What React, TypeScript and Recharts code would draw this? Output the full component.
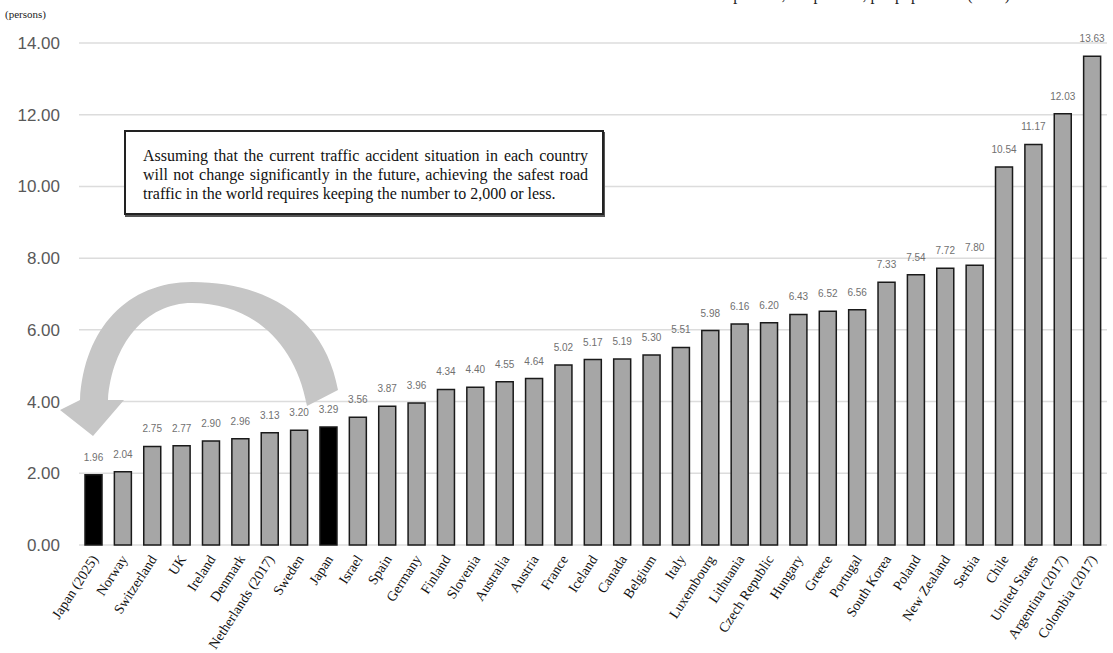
import React from "react";
import {
  BarChart,
  Bar,
  XAxis,
  YAxis,
  CartesianGrid,
  Cell,
  LabelList,
} from "recharts";

// Road traffic deaths per 100,000 persons, by country
const countries = [
  "Japan (2025)",
  "Norway",
  "Switzerland",
  "UK",
  "Ireland",
  "Denmark",
  "Netherlands (2017)",
  "Sweden",
  "Japan",
  "Israel",
  "Spain",
  "Germany",
  "Finland",
  "Slovenia",
  "Australia",
  "Austria",
  "France",
  "Iceland",
  "Canada",
  "Belgium",
  "Italy",
  "Luxembourg",
  "Lithuania",
  "Czech Republic",
  "Hungary",
  "Greece",
  "Portugal",
  "South Korea",
  "Poland",
  "New Zealand",
  "Serbia",
  "Chile",
  "United States",
  "Argentina (2017)",
  "Colombia (2017)",
];

const deaths = [
  1.96, 2.04, 2.75, 2.77, 2.9, 2.96, 3.13, 3.2, 3.29, 3.56, 3.87, 3.96, 4.34,
  4.4, 4.55, 4.64, 5.02, 5.17, 5.19, 5.3, 5.51, 5.98, 6.16, 6.2, 6.43, 6.52,
  6.56, 7.33, 7.54, 7.72, 7.8, 10.54, 11.17, 12.03, 13.63,
];

const highlighted = ["Japan (2025)", "Japan"];

const yTicks = [0, 2, 4, 6, 8, 10, 12, 14];

const note =
  "Assuming that the current traffic accident situation in each country will not change significantly in the future, achieving the safest road traffic in the world requires keeping the number to 2,000 or less.";

const data = countries.map((country, i) => ({ country, value: deaths[i] }));

const serif = '"Liberation Serif", "Times New Roman", serif';
const sans = '"Liberation Sans", Arial, sans-serif';

function CountryTick(props: any) {
  const { x, y, payload } = props;
  return (
    <g transform={`translate(${x + 5},${y + 6})`}>
      <text
        x={0}
        y={0}
        textAnchor="end"
        transform="rotate(-57)"
        fontFamily={serif}
        fontSize={14}
        fill="#111"
      >
        {payload.value}
      </text>
    </g>
  );
}

export default function App() {
  return (
    <div
      style={{
        position: "absolute",
        left: 0,
        top: 0,
        width: 1113,
        height: 653,
        background: "#fff",
        overflow: "hidden",
      }}
    >
      <BarChart
        width={1113}
        height={653}
        data={data}
        margin={{ top: 43, right: 6, bottom: 0, left: 0 }}
        barCategoryGap={0}
      >
        <CartesianGrid vertical={false} stroke="#dcdcdc" strokeWidth={1.5} />
        <XAxis
          dataKey="country"
          interval={0}
          tickLine={false}
          axisLine={false}
          height={108}
          tick={<CountryTick />}
        />
        <YAxis
          domain={[0, 14]}
          ticks={yTicks}
          width={79}
          axisLine={false}
          tickLine={false}
          tickMargin={13}
          tickFormatter={(v: number) => v.toFixed(2)}
          tick={{ fill: "#595959", fontSize: 17, fontFamily: sans }}
        />
        <Bar
          dataKey="value"
          barSize={17}
          fill="#a6a6a6"
          stroke="#1a1a1a"
          strokeWidth={1.5}
          isAnimationActive={false}
        >
          {data.map((d) => (
            <Cell
              key={d.country}
              fill={highlighted.includes(d.country) ? "#000" : "#a6a6a6"}
            />
          ))}
          <LabelList
            dataKey="value"
            position="top"
            offset={14}
            fill="#707070"
            fontSize={10}
            fontFamily={sans}
            formatter={(v: any) => Number(v).toFixed(2)}
          />
        </Bar>
      </BarChart>

      {/* heading, mostly scrolled off the top edge */}
      <div
        style={{
          position: "absolute",
          right: 103,
          top: -14,
          fontFamily: serif,
          fontSize: 16,
          color: "#222",
          whiteSpace: "nowrap",
        }}
      >
        Road traffic deaths per 100,000 persons, per population (2019)
      </div>

      <div
        style={{
          position: "absolute",
          left: 5,
          top: 8,
          fontFamily: serif,
          fontSize: 11,
          color: "#222",
        }}
      >
        (persons)
      </div>

      {/* curved arrow from Japan back to the 2025 target */}
      <svg
        width={1113}
        height={653}
        style={{ position: "absolute", left: 0, top: 0, pointerEvents: "none" }}
      >
        <path
          d="M 338 390 C 325 318, 268 282, 192 282 C 128 282, 84 328, 80 400 L 60 410 L 93 436 L 124 400 L 108 400 C 112 345, 145 303, 192 303 C 250 303, 295 340, 307 406 Z"
          fill="#c6c6c6"
        />
      </svg>

      <div
        style={{
          position: "absolute",
          left: 124,
          top: 130,
          width: 480,
          height: 85,
          boxSizing: "border-box",
          border: "2px solid #222",
          boxShadow: "1px 2px 0 #555",
          background: "#fff",
          padding: "14px 14px 0 17px",
          fontFamily: serif,
          fontSize: 16,
          lineHeight: "19px",
          color: "#111",
          textAlign: "justify",
        }}
      >
        {note}
      </div>
    </div>
  );
}
